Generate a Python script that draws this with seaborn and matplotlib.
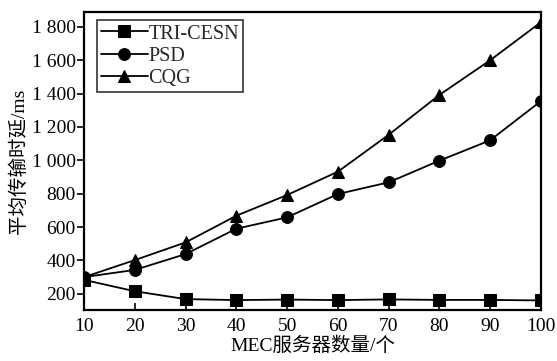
import matplotlib
matplotlib.use("Agg")
import matplotlib.pyplot as plt
import seaborn as sns
import pandas as pd
from matplotlib.ticker import FuncFormatter

servers = [10, 20, 30, 40, 50, 60, 70, 80, 90, 100]
tri_cesn = [283, 215, 168, 162, 165, 162, 166, 163, 163, 160]
psd = [300, 343, 438, 590, 658, 798, 868, 998, 1120, 1355]
cqg = [300, 402, 508, 668, 792, 932, 1153, 1392, 1600, 1828]

series_names = ["TRI-CESN", "PSD", "CQG"]
markers = ["s", "o", "^"]

df = pd.DataFrame({
    "servers": servers * 3,
    "delay": tri_cesn + psd + cqg,
    "method": [n for n in series_names for _ in servers],
})

sns.set_theme(style="ticks")
plt.rcParams["font.family"] = ["Liberation Serif", "Noto Sans CJK SC"]

fig, ax = plt.subplots(figsize=(5.57, 3.61), dpi=100)
fig.subplots_adjust(left=0.151, right=0.971, top=0.967, bottom=0.141)

sns.lineplot(data=df, x="servers", y="delay", hue="method", style="method",
             palette=["black"] * 3, markers=markers, dashes=False,
             markersize=8.5, linewidth=1.3, markeredgecolor="black",
             ax=ax, legend=True)

ax.set_xlim(10, 100)
ax.set_ylim(102, 1890)
ax.set_xticks(servers)
ax.set_yticks([200, 400, 600, 800, 1000, 1200, 1400, 1600, 1800])
ax.yaxis.set_major_formatter(FuncFormatter(
    lambda v, p: f"{int(v):,}".replace(",", " ")))

for s in ax.spines.values():
    s.set_color("black")
    s.set_linewidth(1.6)
    s.set_visible(True)

ax.tick_params(axis="x", direction="in", length=5, width=1.2, labelsize=14,
               colors="black", pad=6)
ax.tick_params(axis="y", direction="out", length=5, width=1.2, labelsize=14,
               colors="black", pad=1)

ax.set_xlabel("MEC服务器数量/个", fontsize=14, color="black", labelpad=1)
ax.set_ylabel("平均传输时延/ms", fontsize=14, color="black", labelpad=3)

leg = ax.legend(loc="upper left", bbox_to_anchor=(0.02, 0.985), fontsize=14.5,
                frameon=True, fancybox=False, edgecolor="black",
                handlelength=2.3, handletextpad=0.05, borderpad=0.2,
                labelspacing=0.15, borderaxespad=0.2)
leg.get_frame().set_linewidth(1.2)

fig.savefig("out.png", dpi=100)
